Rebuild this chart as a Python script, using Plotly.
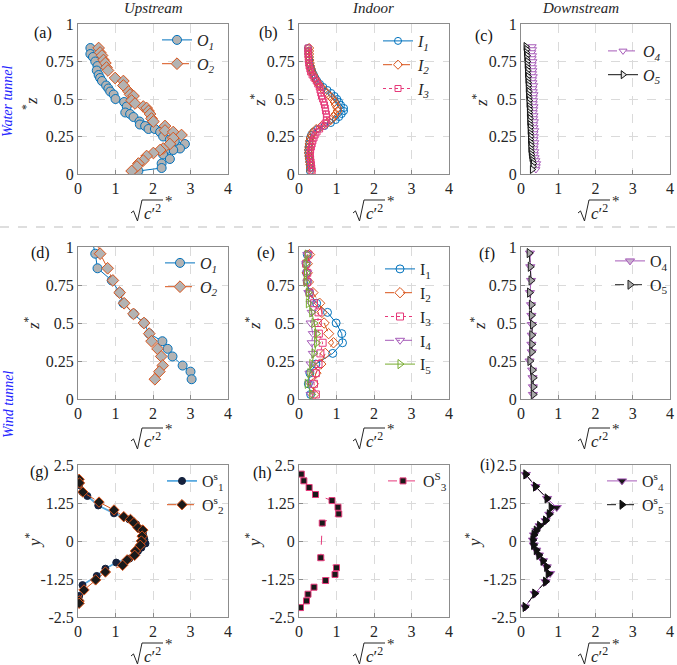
import plotly.graph_objects as go

W, H = 677, 665
FONT = "Liberation Serif, Times New Roman, serif"
TXT = "#262626"

# ---------------- data ----------------
# (a) water tunnel, upstream
a_O1_z = [0.84, 0.80, 0.78, 0.75, 0.72, 0.69, 0.66, 0.64, 0.62, 0.59, 0.57, 0.55, 0.53, 0.50, 0.48, 0.45, 0.41, 0.40,
          0.38, 0.35, 0.33, 0.32, 0.30, 0.30, 0.28, 0.25, 0.23, 0.22, 0.20, 0.17, 0.16, 0.15, 0.13, 0.10, 0.07, 0.04, 0.02]
a_O1_c = [0.33, 0.33, 0.40, 0.46, 0.52, 0.50, 0.55, 0.59, 0.64, 0.75, 0.81, 0.86, 0.95, 1.00, 1.23, 1.30, 1.26, 1.39,
          1.48, 1.64, 1.65, 1.79, 1.88, 2.05, 2.19, 2.27, 2.45, 2.58, 2.85, 2.72, 2.54, 2.32, 2.27, 2.45, 2.23, 2.23, 1.61]
a_O2_z = [0.84, 0.81, 0.79, 0.76, 0.74, 0.71, 0.69, 0.64, 0.62, 0.59, 0.55, 0.53, 0.52, 0.49, 0.47, 0.45, 0.44, 0.42,
          0.40, 0.37, 0.35, 0.32, 0.29, 0.28, 0.26, 0.24, 0.20, 0.17, 0.16, 0.14, 0.12, 0.09, 0.07, 0.05, 0.02]
a_O2_c = [0.55, 0.59, 0.64, 0.68, 0.73, 0.76, 0.80, 0.99, 1.21, 1.21, 1.35, 1.39, 1.48, 1.43, 1.52, 1.74, 1.83, 1.88,
          1.92, 1.96, 2.01, 2.32, 2.32, 2.54, 2.76, 2.54, 2.45, 2.27, 2.19, 2.01, 1.83, 1.74, 1.61, 1.57, 1.43]

# (b) water tunnel, indoor
b_z = [0.84, 0.82, 0.80, 0.78, 0.76, 0.74, 0.72, 0.70, 0.68, 0.66, 0.64, 0.62, 0.60, 0.58, 0.56, 0.54, 0.52, 0.50,
       0.48, 0.46, 0.44, 0.42, 0.40, 0.38, 0.36, 0.34, 0.32, 0.30, 0.28, 0.26, 0.24, 0.22, 0.20, 0.18, 0.16, 0.14,
       0.12, 0.10, 0.08, 0.06, 0.04, 0.02]
b_I1 = [0.24, 0.25, 0.25, 0.26, 0.27, 0.28, 0.30, 0.33, 0.36, 0.40, 0.44, 0.49, 0.56, 0.65, 0.76, 0.86, 0.95, 1.02,
        1.07, 1.12, 1.20, 1.20, 1.14, 1.07, 0.98, 0.85, 0.68, 0.50, 0.38, 0.32, 0.29, 0.28, 0.27, 0.26, 0.25, 0.25,
        0.26, 0.27, 0.28, 0.29, 0.29, 0.29]
b_I2 = [0.27, 0.27, 0.27, 0.27, 0.28, 0.29, 0.30, 0.32, 0.34, 0.38, 0.42, 0.47, 0.52, 0.58, 0.66, 0.74, 0.82, 0.90,
        0.95, 0.98, 1.02, 1.03, 0.98, 0.92, 0.85, 0.75, 0.60, 0.46, 0.38, 0.34, 0.31, 0.29, 0.28, 0.27, 0.26, 0.26,
        0.27, 0.28, 0.29, 0.30, 0.31, 0.32]
b_I3 = [0.24, 0.24, 0.24, 0.25, 0.25, 0.26, 0.27, 0.29, 0.31, 0.35, 0.40, 0.46, 0.50, 0.54, 0.56, 0.58, 0.60, 0.63,
        0.66, 0.68, 0.70, 0.71, 0.73, 0.74, 0.73, 0.70, 0.64, 0.55, 0.48, 0.43, 0.40, 0.37, 0.35, 0.33, 0.31, 0.30,
        0.30, 0.31, 0.32, 0.33, 0.34, 0.35]

# (c) water tunnel, downstream
c_z = [0.85, 0.83, 0.81, 0.79, 0.77, 0.75, 0.73, 0.71, 0.69, 0.67, 0.65, 0.63, 0.61, 0.59, 0.57, 0.55, 0.53, 0.51,
       0.49, 0.47, 0.45, 0.43, 0.41, 0.39, 0.37, 0.35, 0.33, 0.31, 0.29, 0.27, 0.25, 0.23, 0.21, 0.19, 0.17, 0.15,
       0.13, 0.11, 0.09, 0.07, 0.05, 0.03]
c_O4 = [0.30, 0.31, 0.29, 0.31, 0.30, 0.32, 0.30, 0.31, 0.32, 0.31, 0.33, 0.31, 0.32, 0.34, 0.32, 0.33, 0.35, 0.33,
        0.34, 0.33, 0.35, 0.34, 0.33, 0.35, 0.34, 0.36, 0.34, 0.35, 0.37, 0.35, 0.36, 0.35, 0.37, 0.36, 0.35, 0.37,
        0.36, 0.38, 0.40, 0.42, 0.41, 0.40]
c_O5 = [0.13, 0.15, 0.14, 0.16, 0.15, 0.17, 0.16, 0.17, 0.18, 0.17, 0.19, 0.18, 0.19, 0.20, 0.19, 0.21, 0.20, 0.21,
        0.22, 0.21, 0.22, 0.23, 0.22, 0.23, 0.24, 0.23, 0.24, 0.25, 0.24, 0.25, 0.26, 0.25, 0.26, 0.27, 0.26, 0.27,
        0.28, 0.29, 0.31, 0.33, 0.32, 0.30]

# (d) wind tunnel, upstream
d_z = [1.04, 0.956, 0.86, 0.78, 0.70, 0.63, 0.56, 0.50, 0.43, 0.38, 0.33, 0.28, 0.22, 0.18, 0.13]
d_O1 = [0.38, 0.46, 0.52, 0.90, 1.11, 1.21, 1.48, 1.76, 1.90, 2.25, 2.39, 2.52, 2.79, 3.00, 3.03]
d_O2 = [0.52, 0.59, 0.79, 0.93, 1.11, 1.23, 1.48, 1.76, 1.90, 1.96, 2.12, 2.22, 2.26, 2.17, 2.05]

# (e) wind tunnel, indoor
e_z = [0.95, 0.89, 0.83, 0.77, 0.70, 0.63, 0.57, 0.50, 0.43, 0.37, 0.30, 0.23, 0.17, 0.10, 0.03]
e_I1 = [0.22, 0.19, 0.20, 0.22, 0.28, 0.47, 0.76, 0.99, 1.14, 1.16, 0.90, 0.45, 0.29, 0.25, 0.31]
e_I2 = [0.28, 0.22, 0.22, 0.25, 0.37, 0.55, 0.61, 0.67, 0.79, 0.92, 0.70, 0.58, 0.45, 0.38, 0.40]
e_I3 = [0.25, 0.19, 0.22, 0.22, 0.28, 0.40, 0.52, 0.50, 0.53, 0.63, 0.57, 0.52, 0.45, 0.40, 0.45]
e_I4 = [0.22, 0.19, 0.22, 0.22, 0.25, 0.31, 0.34, 0.31, 0.37, 0.34, 0.37, 0.31, 0.28, 0.28, 0.31]
e_I5 = [0.22, 0.19, 0.20, 0.19, 0.25, 0.25, 0.34, 0.40, 0.47, 0.47, 0.40, 0.34, 0.29, 0.22, 0.34]

# (f) wind tunnel, downstream
f_z = [0.96, 0.87, 0.78, 0.70, 0.62, 0.55, 0.49, 0.42, 0.36, 0.31, 0.25, 0.19, 0.14, 0.08, 0.03]
f_O4 = [0.24, 0.25, 0.27, 0.24, 0.27, 0.28, 0.29, 0.29, 0.28, 0.29, 0.23, 0.30, 0.31, 0.32, 0.32]
f_O5 = [0.22, 0.25, 0.27, 0.23, 0.28, 0.28, 0.31, 0.29, 0.29, 0.29, 0.24, 0.31, 0.33, 0.33, 0.33]

# (g) spanwise, upstream
g_O1_y = [1.84, 1.61, 1.48, 1.17, 0.91, 0.71, 0.55, 0.40, 0.27, 0.14, 0.05, -0.08, -0.22, -0.33, -0.44, -0.58,
          -0.71, -0.91, -1.15, -1.45, -1.81]
g_O1_c = [0.03, 0.12, 0.25, 0.54, 0.96, 1.37, 1.55, 1.64, 1.73, 1.75, 1.77, 1.80, 1.69, 1.60, 1.53, 1.37,
          1.02, 0.73, 0.50, 0.12, 0.03]
g_O2_y = [2.03, 1.91, 1.61, 1.28, 1.02, 0.80, 0.71, 0.60, 0.44, 0.36, 0.16, 0.00, -0.14, -0.33, -0.47, -0.62,
          -0.80, -1.02, -1.28, -1.61, -1.97, -2.05]
g_O2_c = [0.03, 0.04, 0.13, 0.56, 0.96, 1.22, 1.40, 1.49, 1.60, 1.73, 1.71, 1.69, 1.66, 1.53, 1.51, 1.31,
          1.19, 0.73, 0.47, 0.16, 0.03, 0.03]

# (h) spanwise, indoor
h_y = [2.20, 1.98, 1.76, 1.53, 1.33, 1.11, 0.89, 0.59, -0.55, -0.88, -1.10, -1.30, -1.52, -1.75, -1.97, -2.19]
h_O3 = [0.06, 0.13, 0.27, 0.44, 0.88, 1.04, 1.06, 0.62, 0.58, 1.00, 0.96, 0.71, 0.40, 0.24, 0.20, 0.04]

# (i) spanwise, downstream
i_y = [2.19, 1.79, 1.40, 1.10, 0.88, 0.67, 0.50, 0.34, 0.20, 0.03, -0.13, -0.30, -0.46, -0.65, -0.85, -1.07,
       -1.34, -1.73, -2.17]
i_O4 = [0.13, 0.39, 0.70, 0.96, 0.76, 0.66, 0.50, 0.41, 0.35, 0.32, 0.34, 0.41, 0.48, 0.59, 0.69, 0.78,
        0.66, 0.37, 0.11]
i_O5 = [0.13, 0.39, 0.70, 0.81, 0.76, 0.66, 0.50, 0.41, 0.35, 0.32, 0.34, 0.41, 0.48, 0.59, 0.69, 0.73,
        0.66, 0.37, 0.11]

x_ticks = [0, 1, 2, 3, 4]
z_ticks = [0, 0.25, 0.5, 0.75, 1]
z_ticktext = ["0", "0.25", "0.5", "0.75", "1"]
y_ticks = [-2.5, -1.25, 0, 1.25, 2.5]
y_ticktext = ["-2.5", "-1.25", "0", "1.25", "2.5"]

col_titles = ["Upstream", "Indoor", "Downstream"]
row_titles = ["Water tunnel", "Wind tunnel"]
panel_labels = ["(a)", "(b)", "(c)", "(d)", "(e)", "(f)", "(g)", "(h)", "(i)"]

# ---------------- styling ----------------
BLUE = "#0072BD"
ORANGE = "#D95319"
PINK = "#E6397A"
PURPLE = "#A65BB8"
GREEN = "#77AC30"
GRAYF = "#b3b3b3"


def px(x):
    return x / W


def py(y):
    return 1 - y / H


col_px = [(78, 228), (299, 449), (521, 670)]
row_px = [(24, 174), (247, 399), (465, 617)]

fig = go.Figure()


def aid(p):
    return "" if p == 0 else str(p + 1)


def add(p, x, y, name, color, dash, symbol, size, fill, lw=1.0, mline=None, mlw=1.0):
    fig.add_trace(go.Scatter(
        x=x, y=y, name=name, mode="lines+markers",
        xaxis="x" + aid(p), yaxis="y" + aid(p), legend="legend" + aid(p),
        line=dict(color=color, width=lw, dash=dash),
        marker=dict(symbol=symbol, size=size, color=fill,
                    line=dict(color=mline or color, width=mlw)),
    ))


def leg(sub, italic=True):
    if italic:
        return "<i>" + sub[0] + "</i><sub><i>" + sub[1:] + "</i></sub>"
    return sub[0] + "<sub>" + sub[1:] + "</sub>"


def legs(letter, n):
    return letter + "<sup>s</sup><sub>" + n + "</sub>"


# (a)
add(0, a_O1_c, a_O1_z, leg("O1"), BLUE, "solid", "circle", 9, GRAYF)
add(0, a_O2_c, a_O2_z, leg("O2"), ORANGE, "dash", "diamond", 9, GRAYF)
# (b)
add(1, b_I1, b_z, leg("I1"), BLUE, "solid", "circle-open", 7, BLUE)
add(1, b_I2, b_z, leg("I2"), ORANGE, "dash", "diamond-open", 7, ORANGE)
add(1, b_I3, b_z, leg("I3"), PINK, "dot", "square-open", 6, PINK)
# (c)
add(2, c_O4, c_z, leg("O4"), PURPLE, "dash", "triangle-down", 7, "white")
add(2, c_O5, c_z, leg("O5"), "#111111", "solid", "triangle-right", 7, "#e6e6e6")
# (d)
add(3, d_O1, d_z, leg("O1"), BLUE, "solid", "circle", 9, GRAYF)
add(3, d_O2, d_z, leg("O2"), ORANGE, "dash", "diamond", 9, GRAYF)
# (e)
add(4, e_I1, e_z, leg("I1", False), BLUE, "solid", "circle-open", 8, BLUE)
add(4, e_I2, e_z, leg("I2", False), ORANGE, "dash", "diamond-open", 8, ORANGE)
add(4, e_I3, e_z, leg("I3", False), PINK, "dot", "square-open", 7, PINK)
add(4, e_I4, e_z, leg("I4", False), PURPLE, "dashdot", "triangle-down-open", 8, PURPLE)
add(4, e_I5, e_z, leg("I5", False), GREEN, "solid", "triangle-right-open", 8, GREEN)
# (f)
add(5, f_O4, f_z, leg("O4", False), PURPLE, "solid", "triangle-down", 8, "#c9b3cf")
add(5, f_O5, f_z, leg("O5", False), "#222222", "dash", "triangle-right", 8, "#a8a8a8")
# (g)
add(6, g_O1_c, g_O1_y, legs("O", "1"), "#5AAAE0", "solid", "circle", 7, "#14213D", lw=1.8, mline="#14213D")
add(6, g_O2_c, g_O2_y, legs("O", "2"), ORANGE, "dash", "diamond", 8, "#1a1a1a", mline=ORANGE)
# (h)
add(7, h_O3, h_y, "O<sup>S</sup><sub>3</sub>", PINK, "dash", "square", 6, "#1a1a1a", mline=PINK)
# (i)
add(8, i_O4, i_y, legs("O", "4"), PURPLE, "solid", "triangle-down", 8, "#1a1a1a", mline=PURPLE)
add(8, i_O5, i_y, legs("O", "5"), "#111111", "dash", "triangle-right", 8, "#111111")

# ---------------- axes ----------------
axis_common = dict(showline=True, linecolor="#8c8c8c", linewidth=1, mirror=True,
                   showgrid=True, gridcolor="#dadada", griddash="dash", gridwidth=1,
                   zeroline=False, ticks="inside", ticklen=4, tickcolor="#8c8c8c",
                   tickfont=dict(family=FONT, size=16, color=TXT), automargin=False)
layout = {}
for r in range(3):
    for c in range(3):
        p = r * 3 + c
        i = aid(p)
        x0, x1 = col_px[c]
        y0, y1 = row_px[r]
        layout["xaxis" + i] = dict(axis_common, domain=[px(x0), px(x1)], anchor="y" + i,
                                   range=[0, 4], tickvals=x_ticks)
        if r < 2:
            yk = dict(range=[0, 1], tickvals=z_ticks, ticktext=z_ticktext)
        else:
            yk = dict(range=[-2.5, 2.5], tickvals=y_ticks, ticktext=y_ticktext)
        layout["yaxis" + i] = dict(axis_common, domain=[py(y1), py(y0)], anchor="x" + i, **yk)

# legends: (left x, top y) in pixels
leg_pos = [(157, 23), (378, 24), (603, 34), (160, 246), (380, 252), (610, 244), (162, 464), (383, 464), (602, 464)]
for p, (lx, ly) in enumerate(leg_pos):
    layout["legend" + aid(p)] = dict(x=px(lx), y=py(ly), xanchor="left", yanchor="top",
                                     bgcolor="rgba(0,0,0,0)", borderwidth=0,
                                     font=dict(family=FONT, size=16, color=TXT),
                                     tracegroupgap=0)

annotations = []
shapes = []


def ann(x, y, text, size, color=TXT, angle=0):
    annotations.append(dict(x=px(x), y=py(y), xref="paper", yref="paper", text=text, textangle=angle,
                            xanchor="center", yanchor="middle", showarrow=False,
                            font=dict(family=FONT, size=size, color=color)))


# column headers
for c, t in enumerate(col_titles):
    ann([153, 373, 580][c], 8, "<i>" + t + "</i>", 15)
# row labels
for k, t in enumerate(row_titles):
    ann(8, [101, 405][k], "<i>" + t + "</i>", 14, color="#2323ff", angle=-90)
# panel labels
lab_pos = [(43, 33), (268, 33), (484, 36), (40, 253), (266, 253), (487, 254), (39, 472), (262, 473), (487, 465)]
for p, (lx, ly) in enumerate(lab_pos):
    ann(lx, ly, panel_labels[p], 16, color="#111111")
# y titles
ytitle_pos = [[(30, 104), (258, 100), (480, 100)], [(32, 323), (253, 323), (478, 323)],
              [(33, 540), (253, 540), (473, 540)]]
for r in range(3):
    for c in range(3):
        xx, yy = ytitle_pos[r][c]
        if r == 2:
            t = "<i>y</i><sup>*</sup>"
        elif r == 0 and c == 0:
            t = "<sup>*</sup><i>z</i>"
        else:
            t = "<i>z</i><sup>*</sup>"
        ann(xx, yy, t, 17, angle=-90)

# x titles: sqrt(c'^2)*  (radical drawn as a path)
rad_left = [131, 353, 578]
rad_top = [200, 428, 643]
for r in range(3):
    for c in range(3):
        L = rad_left[c]
        T = rad_top[r]
        Wd, Hh = 32, 21
        pts = [(L, T + 0.62 * Hh), (L + 2.5, T + 0.52 * Hh), (L + 6.5, T + Hh), (L + 11, T), (L + Wd, T)]
        path = "M " + " L ".join(f"{px(x):.5f},{py(y):.5f}" for x, y in pts)
        shapes.append(dict(type="path", path=path, xref="paper", yref="paper",
                           line=dict(color=TXT, width=1)))
        ann(L + 11 + (Wd - 11) / 2, T + 0.58 * Hh, "<i>c</i>′<sup>2</sup>", 17)
        ann(L + Wd + 6, T + 1, "*", 15)

# separator between water tunnel and wind tunnel rows
shapes.append(dict(type="line", xref="paper", yref="paper", x0=0, x1=1, y0=py(227), y1=py(227),
                   line=dict(color="#bdbdbd", width=1, dash="dash")))

fig.update_layout(**layout)
fig.update_layout(width=W, height=H, margin=dict(l=0, r=0, t=0, b=0, autoexpand=False), autosize=False,
                  paper_bgcolor="white", plot_bgcolor="white", showlegend=True,
                  annotations=annotations, shapes=shapes,
                  font=dict(family=FONT, color=TXT))
fig.write_html("out.html")
